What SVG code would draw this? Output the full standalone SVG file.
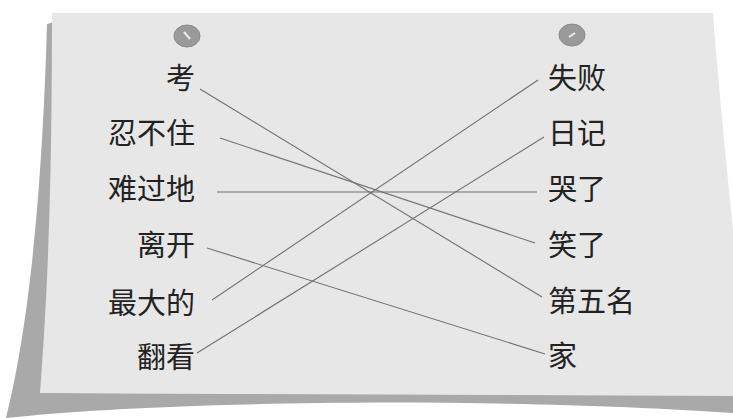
<svg xmlns="http://www.w3.org/2000/svg" width="733" height="418" viewBox="0 0 733 418">
<style>
.lbl{font-family:"Noto Sans CJK SC","Noto Sans CJK JP",sans-serif;font-size:29px;fill:#222}
.l{text-anchor:end}
.c{stroke:#707070;stroke-width:1.1;fill:none}
.pin{fill:#9a9a9a;stroke:#8a8a8a;stroke-width:1}
</style>
<rect width="733" height="418" fill="#ffffff"/>
<path d="M47,24 L54,22 L54,393 L733,395 L733,413 C620,405 450,401 320,403 C170,405 70,411 6,418 C28,330 42,200 47,24 Z" fill="#a9a9a9"/>
<path d="M52,13 L713,13 C718,80 726,160 733,230 L733,396 L40,393 C47,300 52,200 52,13 Z" fill="#e7e7e7"/>
<g id="pins">
<ellipse class="pin" cx="187" cy="36" rx="13" ry="11"/>
<path d="M184,32 L190,39" stroke="#eee" stroke-width="2"/>
<ellipse class="pin" cx="572" cy="35" rx="13" ry="11"/>
<path d="M569,37 L575,33" stroke="#eee" stroke-width="2"/>
</g>
<g id="connectors">
<line class="c" x1="200" y1="89" x2="542" y2="297"/>
<line class="c" x1="220" y1="138" x2="535" y2="243"/>
<line class="c" x1="217" y1="192" x2="537" y2="192"/>
<line class="c" x1="207" y1="248" x2="545" y2="354"/>
<line class="c" x1="212" y1="300" x2="538" y2="80"/>
<line class="c" x1="197" y1="353" x2="544" y2="137"/>
</g>
<g id="kao"><text class="lbl l" x="195" y="89">考</text></g>
<g id="renbuzhu"><text class="lbl l" x="195" y="144">忍不住</text></g>
<g id="nanguodi"><text class="lbl l" x="195" y="200">难过地</text></g>
<g id="likai"><text class="lbl l" x="195" y="256">离开</text></g>
<g id="zuidade"><text class="lbl l" x="195" y="314">最大的</text></g>
<g id="fankan"><text class="lbl l" x="195" y="368">翻看</text></g>
<g id="shibai"><text class="lbl" x="548" y="89">失败</text></g>
<g id="riji"><text class="lbl" x="548" y="144">日记</text></g>
<g id="kule"><text class="lbl" x="548" y="200">哭了</text></g>
<g id="xiaole"><text class="lbl" x="548" y="256">笑了</text></g>
<g id="diwuming"><text class="lbl" x="548" y="312">第五名</text></g>
<g id="jia"><text class="lbl" x="548" y="367">家</text></g>
</svg>
